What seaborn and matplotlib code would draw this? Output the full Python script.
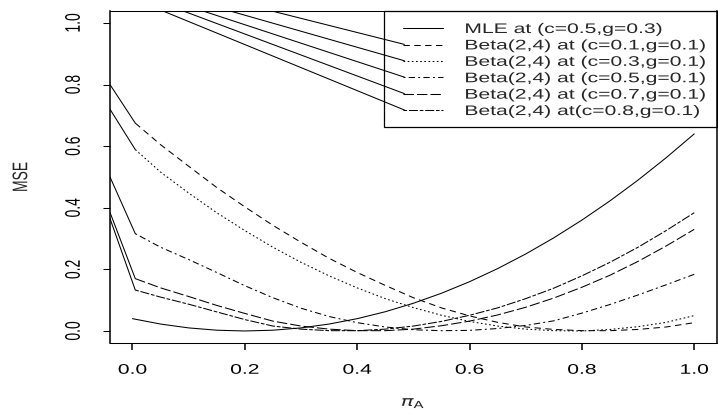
import numpy as np
import pandas as pd
import matplotlib
matplotlib.use("Agg")
import matplotlib.pyplot as plt
import seaborn as sns
from matplotlib.patheffects import AbstractPathEffect
from matplotlib.transforms import Affine2D
from matplotlib.patches import Rectangle

# ---- data -------------------------------------------------------------
pi_grid = [0.0, 0.05, 0.10, 0.15, 0.20, 0.25, 0.30, 0.35, 0.40, 0.45, 0.50,
           0.55, 0.60, 0.65, 0.70, 0.75, 0.80, 0.85, 0.90, 0.95, 1.00]
beta_grid = [0.005] + pi_grid[1:]

mse_mle = [0.040, 0.0225, 0.010, 0.0025, 0.000, 0.0025, 0.010, 0.0225, 0.040,
           0.0625, 0.090, 0.1225, 0.160, 0.2025, 0.250, 0.3025, 0.360,
           0.4225, 0.490, 0.5625, 0.640]
mse_c01 = [0.675, 0.605, 0.535, 0.466, 0.403, 0.343, 0.288, 0.236, 0.190,
           0.148, 0.108, 0.075, 0.049, 0.028, 0.013, 0.005, 0.001, 0.001,
           0.005, 0.013, 0.027]
mse_c03 = [0.589, 0.516, 0.448, 0.384, 0.326, 0.272, 0.223, 0.179, 0.140,
           0.105, 0.076, 0.051, 0.031, 0.016, 0.006, 0.001, 0.000, 0.005,
           0.014, 0.028, 0.050]
mse_c05 = [0.316, 0.272, 0.232, 0.190, 0.147, 0.108, 0.074, 0.047, 0.027,
           0.013, 0.004, 0.001, 0.002, 0.008, 0.018, 0.033, 0.058, 0.086,
           0.117, 0.150, 0.184]
mse_c07 = [0.170, 0.140, 0.112, 0.083, 0.057, 0.032, 0.016, 0.006, 0.001,
           0.001, 0.006, 0.017, 0.032, 0.052, 0.077, 0.107, 0.142, 0.181,
           0.226, 0.276, 0.330]
mse_c08 = [0.133, 0.110, 0.087, 0.062, 0.037, 0.016, 0.006, 0.001, 0.001,
           0.006, 0.016, 0.031, 0.051, 0.075, 0.105, 0.139, 0.179, 0.223,
           0.272, 0.326, 0.384]

# starting values of the Beta curves at the left border of the panel
edge_x = -0.04
edge_mse = [0.80, 0.72, 0.50, 0.385, 0.365]

# guide lines running from the top border to the legend keys
guide_top_x = [0.246, 0.172, 0.124, 0.089, 0.053]
guide_top_y = 1.04
guide_end_x = 0.484
guide_end_y = [0.9306, 0.8775, 0.8243, 0.7708, 0.7176]

labels = ["MLE at (c=0.5,g=0.3)",
          "Beta(2,4) at (c=0.1,g=0.1)",
          "Beta(2,4) at (c=0.3,g=0.1)",
          "Beta(2,4) at (c=0.5,g=0.1)",
          "Beta(2,4) at (c=0.7,g=0.1)",
          "Beta(2,4) at(c=0.8,g=0.1)"]
ticks = [0.0, 0.2, 0.4, 0.6, 0.8, 1.0]
tick_labels = ["0.0", "0.2", "0.4", "0.6", "0.8", "1.0"]

# ---- style ------------------------------------------------------------
sns.set_style("ticks")
plt.rcParams["font.family"] = ["Liberation Sans", "DejaVu Sans"]
plt.rcParams["lines.scale_dashes"] = False
plt.rcParams["mathtext.fontset"] = "dejavusans"

LW = 0.75
dash_styles = [
    "-",
    (0, (4.6, 3.2)),                 # dashed
    (0, (1.2, 1.8)),                 # dotted
    (0, (1.4, 2.3, 4.6, 2.3)),       # dot-dash
    (0, (7.5, 2.2)),                 # long dash
    (0, (2.6, 1.3, 6.5, 1.3)),       # two-dash
]
SX = 1.52   # horizontal widening of all lettering


class WideText(AbstractPathEffect):
    """Draw text widened horizontally around a fixed anchor."""

    def __init__(self, sx, anchor="center"):
        super().__init__()
        self.sx = sx
        self.anchor = anchor

    def draw_path(self, renderer, gc, tpath, affine, rgbFace=None):
        ext = affine.transform_path(tpath).get_extents()
        if self.anchor == "left":
            cx = ext.x0
        elif self.anchor == "right":
            cx = ext.x1
        else:
            cx = 0.5 * (ext.x0 + ext.x1)
        widen = Affine2D().translate(-cx, 0).scale(self.sx, 1.0).translate(cx, 0)
        renderer.draw_path(gc, tpath, affine + widen, rgbFace)


W, H = 718, 413
fig = plt.figure(figsize=(W / 100, H / 100), dpi=100)
ax = fig.add_axes([110 / W, (H - 343.3) / H, 606.7 / W, 332.6 / H])

# ---- curves -----------------------------------------------------------
rows = [pd.DataFrame({"pi": pi_grid, "mse": mse_mle, "series": labels[0]})]
for lab, vals in zip(labels[1:], [mse_c01, mse_c03, mse_c05, mse_c07, mse_c08]):
    rows.append(pd.DataFrame({"pi": beta_grid, "mse": vals, "series": lab}))
df = pd.concat(rows, ignore_index=True)

handles = []
for lab, ls in zip(labels, dash_styles):
    sub = df[df["series"] == lab]
    sns.lineplot(data=sub, x="pi", y="mse", ax=ax, color="black", lw=LW,
                 linestyle=ls, estimator=None, sort=False, legend=False)
    handles.append(ax.lines[-1])

# solid lead-in pieces from the left border
for lab, start in zip(labels[1:], edge_mse):
    first = df[df["series"] == lab].iloc[0]
    seg = pd.DataFrame({"pi": [edge_x, first["pi"]], "mse": [start, first["mse"]]})
    sns.lineplot(data=seg, x="pi", y="mse", ax=ax, color="black", lw=LW,
                 estimator=None, sort=False, legend=False)

# guide lines towards the legend
for tx, ey in zip(guide_top_x, guide_end_y):
    seg = pd.DataFrame({"pi": [tx, guide_end_x], "mse": [guide_top_y, ey]})
    sns.lineplot(data=seg, x="pi", y="mse", ax=ax, color="black", lw=LW,
                 estimator=None, sort=False, legend=False)

# ---- axes -------------------------------------------------------------
ax.set_xlim(-0.04, 1.04)
ax.set_ylim(-0.04, 1.04)
ax.set_xticks(ticks)
ax.set_xticklabels(tick_labels)
ax.set_yticks(ticks)
ax.set_yticklabels(tick_labels)
ax.set_xlabel("")
ax.set_ylabel("")
for side in ["left", "right"]:
    ax.spines[side].set_linewidth(1.1)
for side in ["top", "bottom"]:
    ax.spines[side].set_linewidth(0.75)
for sp in ax.spines.values():
    sp.set_color("black")
ax.tick_params(axis="x", direction="out", length=5, width=1.1, pad=9,
               labelsize=10, colors="black")
ax.tick_params(axis="y", direction="out", length=5, width=0.75, pad=16.4,
               labelsize=10, labelrotation=90, colors="black")
for t in ax.get_yticklabels():
    t.set_verticalalignment("center")
for t in ax.get_xticklabels() + ax.get_yticklabels():
    t.set_path_effects([WideText(SX)])

ylab = ax.text((20.7 - 110) / 606.7, 0.5, "MSE", transform=ax.transAxes,
               rotation=90, ha="center", va="center", fontsize=10)
ylab.set_path_effects([WideText(SX)])
xlab = ax.text(0.5, (343.3 - 403) / 332.6, r"$\pi_{\mathrm{A}}$",
               transform=ax.transAxes, ha="center", va="center", fontsize=10)
xlab.set_path_effects([WideText(SX)])

# ---- legend -----------------------------------------------------------
leg = ax.legend(handles, labels, loc="upper left",
                bbox_to_anchor=((403 - 110) / 606.7, (343.3 - 22.0) / 332.6),
                borderpad=0, borderaxespad=0, frameon=False, fontsize=10,
                handlelength=2.88, handletextpad=1.58, labelspacing=0.1735)
for t in leg.get_texts():
    t.set_path_effects([WideText(SX, "left")])
box = Rectangle(((384 - 110) / 606.7, (343.3 - 126.7) / 332.6),
                1 - (384 - 110) / 606.7, (126.7 - 10.7) / 332.6,
                transform=ax.transAxes, fill=False, edgecolor="black",
                lw=0.9, clip_on=False, zorder=4)
ax.add_patch(box)

fig.savefig("out.png", dpi=100)
